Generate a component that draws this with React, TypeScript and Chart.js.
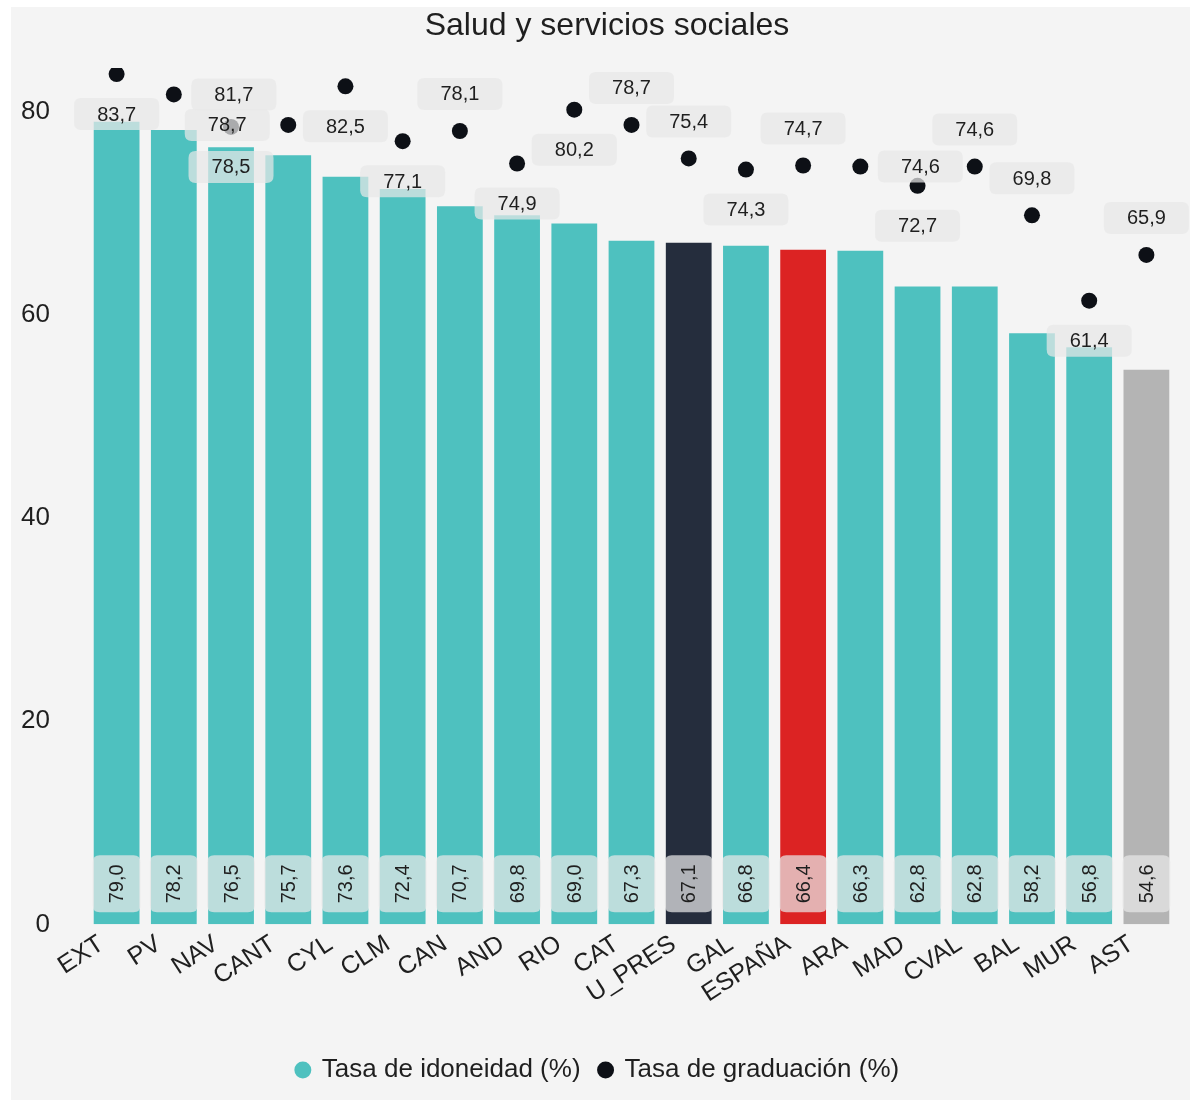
import React, { useEffect, useRef } from "react";
import { Chart, registerables } from "chart.js";

Chart.register(...registerables);

const categories = ["EXT", "PV", "NAV", "CANT", "CYL", "CLM", "CAN", "AND", "RIO", "CAT", "U_PRES", "GAL", "ESPAÑA", "ARA", "MAD", "CVAL", "BAL", "MUR", "AST"];
const idoneidad = [79.0, 78.2, 76.5, 75.7, 73.6, 72.4, 70.7, 69.8, 69.0, 67.3, 67.1, 66.8, 66.4, 66.3, 62.8, 62.8, 58.2, 56.8, 54.6];
const graduacion = [83.7, 81.7, 78.5, 78.7, 82.5, 77.1, 78.1, 74.9, 80.2, 78.7, 75.4, 74.3, 74.7, 74.6, 72.7, 74.6, 69.8, 61.4, 65.9];
const yTicks = [0, 20, 40, 60, 80];
const yMax = 84.3;
const chartTitle = "Salud y servicios sociales";

// label placement hints for the graduation labels
const labelSide = ["below", "right", "below", "left", "below", "below", "above", "below", "below", "above", "above", "below", "above", "right", "below", "above", "above", "below", "above"];

const TEAL = "#4ec1bf";
const specialColors: Record<string, string> = {
  U_PRES: "#252d3d",
  "ESPAÑA": "#dc2323",
  AST: "#b4b4b4",
};
const barColors = categories.map((c) => specialColors[c] || TEAL);

const FONT = "'Liberation Sans', Arial, Helvetica, sans-serif";
const TEXT = "#1f1f1f";
const BOX = "rgba(231,231,231,0.72)";

const fmt = (v: number) => v.toFixed(1).replace(".", ",");

function roundRect(ctx: CanvasRenderingContext2D, x: number, y: number, w: number, h: number, r: number) {
  ctx.beginPath();
  ctx.moveTo(x + r, y);
  ctx.lineTo(x + w - r, y);
  ctx.quadraticCurveTo(x + w, y, x + w, y + r);
  ctx.lineTo(x + w, y + h - r);
  ctx.quadraticCurveTo(x + w, y + h, x + w - r, y + h);
  ctx.lineTo(x + r, y + h);
  ctx.quadraticCurveTo(x, y + h, x, y + h - r);
  ctx.lineTo(x, y + r);
  ctx.quadraticCurveTo(x, y, x + r, y);
  ctx.closePath();
}

const labelPlugin = {
  id: "valueLabels",
  afterDatasetsDraw(chart: any) {
    const ctx: CanvasRenderingContext2D = chart.ctx;
    const yScale = chart.scales.y;
    ctx.save();
    ctx.font = `20px ${FONT}`;
    ctx.textAlign = "center";
    ctx.textBaseline = "middle";

    const barMeta = chart.getDatasetMeta(0);
    const base = yScale.getPixelForValue(0);
    barMeta.data.forEach((el: any, i: number) => {
      const w = el.width + 2;
      const h = 57;
      const cy = base - 12 - h / 2;
      ctx.fillStyle = BOX;
      roundRect(ctx, el.x - w / 2, cy - h / 2, w, h, 7);
      ctx.fill();
      ctx.save();
      ctx.translate(el.x, cy);
      ctx.rotate(-Math.PI / 2);
      ctx.fillStyle = TEXT;
      ctx.fillText(fmt(idoneidad[i]), 0, 1);
      ctx.restore();
    });

    const ptMeta = chart.getDatasetMeta(1);
    ptMeta.data.forEach((el: any, i: number) => {
      let cx = el.x;
      let cy = el.y;
      const side = labelSide[i];
      if (side === "below") cy += 40;
      else if (side === "above") cy -= 37;
      else if (side === "right") cx += 60;
      else if (side === "left") cx -= 61;
      const w = 85;
      const h = 32;
      ctx.fillStyle = BOX;
      roundRect(ctx, cx - w / 2, cy - h / 2, w, h, 7);
      ctx.fill();
      ctx.fillStyle = TEXT;
      ctx.fillText(fmt(graduacion[i]), cx, cy + 1);
    });
    ctx.restore();
  },
  afterDraw(chart: any) {
    const ctx: CanvasRenderingContext2D = chart.ctx;
    ctx.save();
    ctx.font = `32px ${FONT}`;
    ctx.fillStyle = TEXT;
    ctx.textAlign = "center";
    ctx.textBaseline = "middle";
    ctx.fillText(chartTitle, 596, 19);
    ctx.restore();
  },
};

export default function App() {
  const canvasRef = useRef<HTMLCanvasElement | null>(null);

  useEffect(() => {
    if (!canvasRef.current) return;
    Chart.defaults.font.family = FONT;
    Chart.defaults.color = TEXT;
    const chart = new Chart(canvasRef.current, {
      type: "bar",
      data: {
        labels: categories,
        datasets: [
          {
            type: "bar",
            label: "Tasa de idoneidad (%)",
            data: idoneidad,
            backgroundColor: barColors,
            borderWidth: 0,
            barPercentage: 0.8,
            categoryPercentage: 1,
            order: 2,
          },
          {
            type: "line",
            label: "Tasa de graduación (%)",
            data: graduacion,
            showLine: false,
            pointRadius: 8,
            pointHoverRadius: 8,
            pointBackgroundColor: "#0d1016",
            pointBorderColor: "#0d1016",
            backgroundColor: "#0d1016",
            borderColor: "#0d1016",
            pointBorderWidth: 0,
            order: 1,
          },
        ],
      },
      options: {
        responsive: true,
        maintainAspectRatio: false,
        animation: false,
        layout: { padding: { left: 10, right: 15, top: 61, bottom: 7 } },
        plugins: {
          title: { display: false },
          legend: {
            position: "bottom",
            labels: {
              usePointStyle: true,
              pointStyle: "circle",
              boxWidth: 12,
              boxHeight: 12,
              padding: 19,
              font: { size: 26 },
              color: TEXT,
              sort: (a: any, b: any) => a.datasetIndex - b.datasetIndex,
            },
          },
          tooltip: { enabled: false },
        },
        scales: {
          x: {
            grid: { display: false },
            border: { display: false },
            afterFit: (scale: any) => {
              scale.height += 32;
              scale.paddingLeft = 0;
              scale.paddingRight = 0;
            },
            ticks: {
              font: { size: 25 },
              color: TEXT,
              minRotation: 33,
              maxRotation: 33,
              autoSkip: false,
              padding: -3,
              labelOffset: -15,
            },
          },
          y: {
            min: 0,
            max: yMax,
            grid: { display: false },
            border: { display: false },
            afterBuildTicks: (scale: any) => {
              scale.ticks = yTicks.map((v) => ({ value: v }));
            },
            afterFit: (scale: any) => {
              scale.paddingTop = 0;
              scale.paddingBottom = 0;
              scale.width = 67;
            },
            ticks: {
              font: { size: 26 },
              color: TEXT,
              padding: 30,
            },
          },
        },
      },
      plugins: [labelPlugin],
    });
    return () => chart.destroy();
  }, []);

  return (
    <div
      style={{
        position: "fixed",
        left: 11,
        top: 7,
        width: 1179,
        height: 1093,
        background: "#f4f4f4",
      }}
    >
      <canvas ref={canvasRef} />
    </div>
  );
}
